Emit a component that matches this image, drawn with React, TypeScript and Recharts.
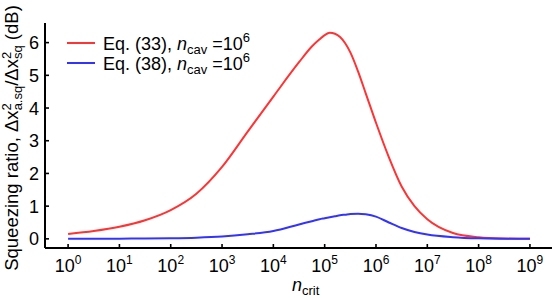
import { LineChart, Line, XAxis, YAxis } from "recharts";

// log10(n_crit) sample positions
const LOG_N = [0, 0.5, 1, 1.5, 2, 2.5, 3, 3.5, 4, 4.5, 4.75, 4.9, 5, 5.1, 5.2, 5.3, 5.4, 5.5, 5.65, 5.8, 6, 6.25, 6.5, 6.75, 7, 7.5, 8, 8.5, 9];
// Eq. (33), n_cav = 10^6 (dB)
const EQ33 = [0.15, 0.24, 0.37, 0.57, 0.88, 1.38, 2.2, 3.28, 4.35, 5.4, 5.88, 6.1, 6.23, 6.3, 6.27, 6.17, 5.98, 5.7, 5.12, 4.45, 3.55, 2.5, 1.6, 1.0, 0.6, 0.18, 0.05, 0.01, 0];
// Eq. (38), n_cav = 10^6 (dB)
const EQ38 = [0, 0.003, 0.006, 0.01, 0.018, 0.035, 0.07, 0.14, 0.24, 0.44, 0.54, 0.6, 0.63, 0.66, 0.69, 0.72, 0.74, 0.76, 0.77, 0.75, 0.68, 0.5, 0.33, 0.21, 0.13, 0.05, 0.015, 0.004, 0];

const X_TICKS = [0, 1, 2, 3, 4, 5, 6, 7, 8, 9];
const Y_TICKS = [0, 1, 2, 3, 4, 5, 6];

const data = LOG_N.map((x, i) => ({ x, eq33: EQ33[i], eq38: EQ38[i] }));

const FONT = "'Liberation Sans', Arial, sans-serif";
const RED = "#ff3333";
const BLUE = "#3333ff";

// plot frame edges (from chart margins + axis sizes)
const TOP = 23, BOTTOM = 248, LEFT = 45, RIGHT = 552;

// ── ticks (inward marks, labels outside) ─────────────────────────────────────
function BottomTick({ x, payload }: any) {
  return (
    <g>
      <line x1={x} x2={x} y1={BOTTOM} y2={BOTTOM - 4} stroke="#000" strokeWidth={1.6} />
      <text x={x} y={BOTTOM + 24} textAnchor="middle" fontFamily={FONT} fontSize={18} fill="#000">
        <tspan>10</tspan>
        <tspan dy={-8} fontSize={12}>{payload.value}</tspan>
      </text>
    </g>
  );
}

function TopTick({ x }: any) {
  return <line x1={x} x2={x} y1={TOP} y2={TOP + 4} stroke="#000" strokeWidth={1.6} />;
}

function LeftTick({ y, payload }: any) {
  return (
    <g>
      <line x1={LEFT} x2={LEFT + 4} y1={y} y2={y} stroke="#000" strokeWidth={1.6} />
      <text x={LEFT - 6} y={y + 6.5} textAnchor="end" fontFamily={FONT} fontSize={18} fill="#000">{payload.value}</text>
    </g>
  );
}

function RightTick({ y }: any) {
  return <line x1={RIGHT} x2={RIGHT - 4} y1={y} y2={y} stroke="#000" strokeWidth={1.6} />;
}

function LegendRow({ y, color, eq }: { y: number; color: string; eq: string }) {
  return (
    <g>
      <line x1={67} x2={95} y1={y} y2={y} stroke={color} strokeWidth={2} />
      <text x={103} y={y + 6.5} fontFamily={FONT} fontSize={18} fill="#000">
        <tspan>{`Eq. (${eq}), `}</tspan>
        <tspan fontStyle="italic">n</tspan>
        <tspan dy={4} fontSize={13}>cav</tspan>
        <tspan dy={-4}>{" =10"}</tspan>
        <tspan dy={-8} fontSize={13}>6</tspan>
      </text>
    </g>
  );
}

export default function App() {
  const axisLine = { stroke: "#000", strokeWidth: 2 };
  return (
    <div style={{ position: "absolute", left: 0, top: 0, width: 556, height: 298, background: "#fff" }}>
      <LineChart width={556} height={298} data={data} margin={{ top: 23, right: 4, left: 0, bottom: 0 }}>
        <XAxis dataKey="x" type="number" domain={[-0.45, 9.43]} ticks={X_TICKS} allowDataOverflow
          height={50} axisLine={axisLine} tickLine={false} tick={<BottomTick />} interval={0} />
        <XAxis xAxisId="top" orientation="top" dataKey="x" type="number" domain={[-0.45, 9.43]} ticks={X_TICKS} allowDataOverflow
          height={0} axisLine={axisLine} tickLine={false} tick={<TopTick />} interval={0} />
        <YAxis type="number" domain={[-0.28, 6.6]} ticks={Y_TICKS} allowDataOverflow width={45}
          axisLine={axisLine} tickLine={false} tick={<LeftTick />} interval={0} />
        <YAxis yAxisId="right" orientation="right" type="number" domain={[-0.28, 6.6]} ticks={Y_TICKS} allowDataOverflow width={0}
          axisLine={axisLine} tickLine={false} tick={<RightTick />} interval={0} />
        <Line type="monotone" dataKey="eq33" stroke={RED} strokeWidth={2} dot={false} isAnimationActive={false} />
        <Line type="monotone" dataKey="eq38" stroke={BLUE} strokeWidth={2} dot={false} isAnimationActive={false} />
      </LineChart>
      <svg width={556} height={298} style={{ position: "absolute", left: 0, top: 0, pointerEvents: "none" }}>
        <LegendRow y={43} color={RED} eq="33" />
        <LegendRow y={63} color={BLUE} eq="38" />
        {/* x title */}
        <text x={292} y={291} fontFamily={FONT} fontSize={18} fill="#000">
          <tspan fontStyle="italic">n</tspan>
          <tspan dy={4} fontSize={13}>crit</tspan>
        </text>
        {/* y title */}
        <text transform="translate(18,138) rotate(-90)" textAnchor="middle" fontFamily={FONT} fontSize={18.5} fill="#000">
          <tspan>Squeezing ratio, Δx</tspan>
          <tspan dy={-7} fontSize={13}>2</tspan>
          <tspan dx={-7.2} dy={11} fontSize={13}>a.sq</tspan>
          <tspan dy={-4}>/Δx</tspan>
          <tspan dy={-7} fontSize={13}>2</tspan>
          <tspan dx={-7.2} dy={11} fontSize={13}>sq</tspan>
          <tspan dy={-4}>{" (dB)"}</tspan>
        </text>
      </svg>
    </div>
  );
}
